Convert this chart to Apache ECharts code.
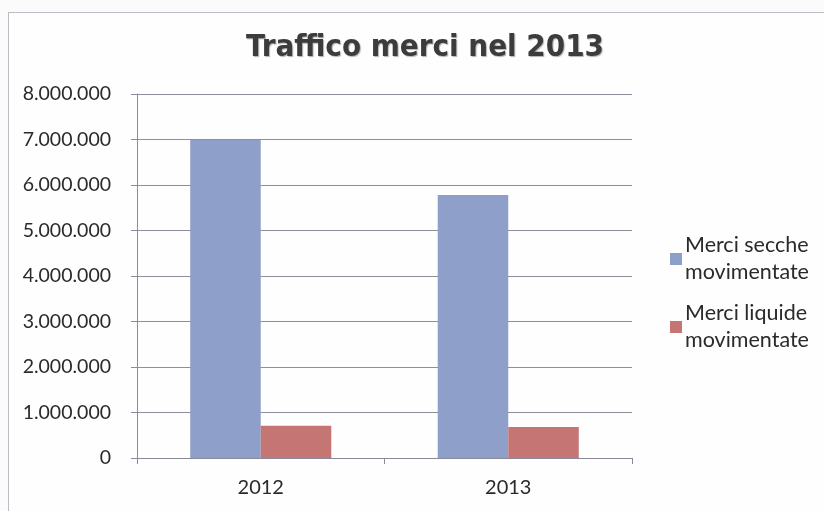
<!DOCTYPE html>
<html>
<head>
<meta charset="utf-8">
<script src="https://cdn.jsdelivr.net/npm/echarts@6/dist/echarts.min.js"></script>
<style>
html,body{margin:0;padding:0;background:#fbfbfb;}
#frame{position:absolute;left:8px;top:12px;width:830px;height:520px;border:1px solid #bcbcc4;background:#fefefe;}
#c{position:absolute;left:0;top:0;width:824px;height:511px;}
</style>
</head>
<body>
<div id="frame"></div>
<div id="c"></div>
<script>
const titleText = "Traffico merci nel 2013";
const categories = ["2012", "2013"];
const seriesNames = ["Merci secche\nmovimentate", "Merci liquide\nmovimentate"];
const merciSecche = [6990000, 5780000];
const merciLiquide = [710000, 680000];
const yMin = 0, yMax = 8000000, yStep = 1000000;

function fmt(v){ return String(v).replace(/\B(?=(\d{3})+(?!\d))/g, "."); }

const chart = echarts.init(document.getElementById('c'), null, {renderer:'canvas'});
chart.setOption({
  backgroundColor: 'transparent',
  animation: false,
  title: {
    text: titleText, left: 420, top: 27, textAlign: 'center',
    textStyle: {fontFamily: 'DejaVu Sans Condensed', fontWeight: 'bold', fontSize: 31, color: '#3c3c3c',
      textShadowColor: 'rgba(0,0,0,0.3)', textShadowOffsetX: 1, textShadowOffsetY: 1, textShadowBlur: 1}
  },
  legend: {
    orient: 'vertical', left: 665, top: 227, itemWidth: 12, itemHeight: 12, itemGap: 14,
    icon: 'rect',
    textStyle: {fontFamily: 'Lato', fontSize: 21.5, color: '#2a2a2a', lineHeight: 27, padding: [0,0,0,-2]},
    data: seriesNames
  },
  grid: {left: 137, right: 192, top: 94, bottom: 53, containLabel: false},
  xAxis: {
    type: 'category', data: categories,
    axisLine: {lineStyle: {color: '#8a8a9a', width: 1}},
    axisTick: {show: true, length: 6, lineStyle: {color: '#8a8a9a'}},
    axisLabel: {fontFamily: 'Lato', fontSize: 20, color: '#2a2a2a', margin: 20}
  },
  yAxis: {
    type: 'value', min: yMin, max: yMax, interval: yStep,
    axisLine: {show: true, lineStyle: {color: '#8a8a9a', width: 1}},
    axisTick: {show: true, length: 6, lineStyle: {color: '#8a8a9a'}},
    splitLine: {lineStyle: {color: '#8e8e9c', width: 1}},
    axisLabel: {fontFamily: 'Lato', fontSize: 19.5, color: '#2a2a2a', margin: 26, formatter: fmt}
  },
  series: [
    {name: seriesNames[0], type: 'bar', data: merciSecche, barGap: '0%', barCategoryGap: '43%',
     itemStyle: {color: '#8e9fc9'}},
    {name: seriesNames[1], type: 'bar', data: merciLiquide, barGap: '0%', barCategoryGap: '43%',
     itemStyle: {color: '#c47574'}}
  ]
});
</script>
</body>
</html>
